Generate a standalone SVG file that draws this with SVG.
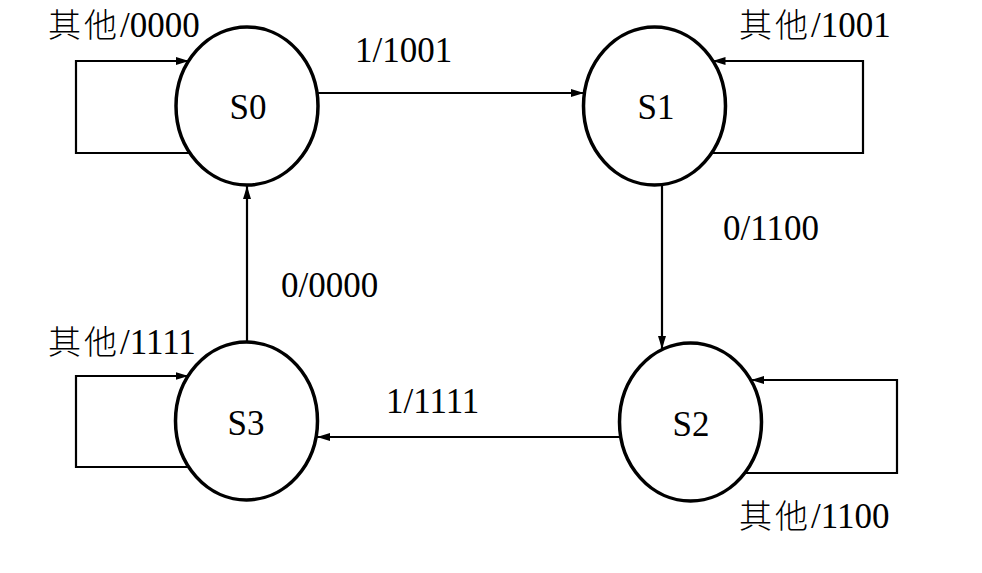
<svg xmlns="http://www.w3.org/2000/svg" width="982" height="573" viewBox="0 0 982 573">
<defs>
<marker id="arr" markerWidth="14" markerHeight="8" refX="13" refY="4" orient="auto" markerUnits="userSpaceOnUse">
<path d="M0,0 L13,4 L0,8 z" fill="#000"/>
</marker>
<style>
.st{fill:#fff;stroke:#000;stroke-width:3.5}
.ln{fill:none;stroke:#000;stroke-width:2.2;marker-end:url(#arr)}
.lb{font-family:"Liberation Serif","Noto Sans CJK SC",serif;font-size:35px;fill:#000}
.cj{font-family:"Noto Sans CJK SC","Liberation Serif",sans-serif;font-size:33px;letter-spacing:3px;font-weight:300}
.nm{font-family:"Liberation Serif",serif;font-size:35px;fill:#000;text-anchor:middle}
</style>
</defs>
<rect width="982" height="573" fill="#fff"/>
<g id="connectors">
<path class="ln" d="M190,153 H76 V61 H189"/>
<path class="ln" d="M712,153 H863 V61 H712.5"/>
<path class="ln" d="M189,467 H76 V376 H188.5"/>
<path class="ln" d="M745,473 H897 V380 H751"/>
<path class="ln" d="M317,93 H584"/>
<path class="ln" d="M662,185 V349"/>
<path class="ln" d="M621,437 H317"/>
<path class="ln" d="M247,342 V186"/>
<text class="lb" x="48" y="37"><tspan class="cj">其他</tspan><tspan x="120">/0000</tspan></text>
<text class="lb" x="739" y="37"><tspan class="cj">其他</tspan><tspan x="811">/1001</tspan></text>
<text class="lb" x="48" y="354"><tspan class="cj">其他</tspan><tspan x="120">/1111</tspan></text>
<text class="lb" x="739" y="528"><tspan class="cj">其他</tspan><tspan x="811">/1100</tspan></text>
<text class="lb" x="355" y="62">1/1001</text>
<text class="lb" x="723" y="240">0/1100</text>
<text class="lb" x="281" y="297">0/0000</text>
<text class="lb" x="386" y="413">1/1111</text>
</g>
<g id="S0"><ellipse class="st" cx="247" cy="106" rx="71" ry="79"/><text class="nm" x="248" y="119">S0</text></g>
<g id="S1"><ellipse class="st" cx="654.5" cy="106" rx="71" ry="79"/><text class="nm" x="656" y="119">S1</text></g>
<g id="S3"><ellipse class="st" cx="246.5" cy="421" rx="71" ry="79"/><text class="nm" x="246" y="435">S3</text></g>
<g id="S2"><ellipse class="st" cx="690.5" cy="422" rx="71" ry="79"/><text class="nm" x="691" y="436">S2</text></g>
</svg>
